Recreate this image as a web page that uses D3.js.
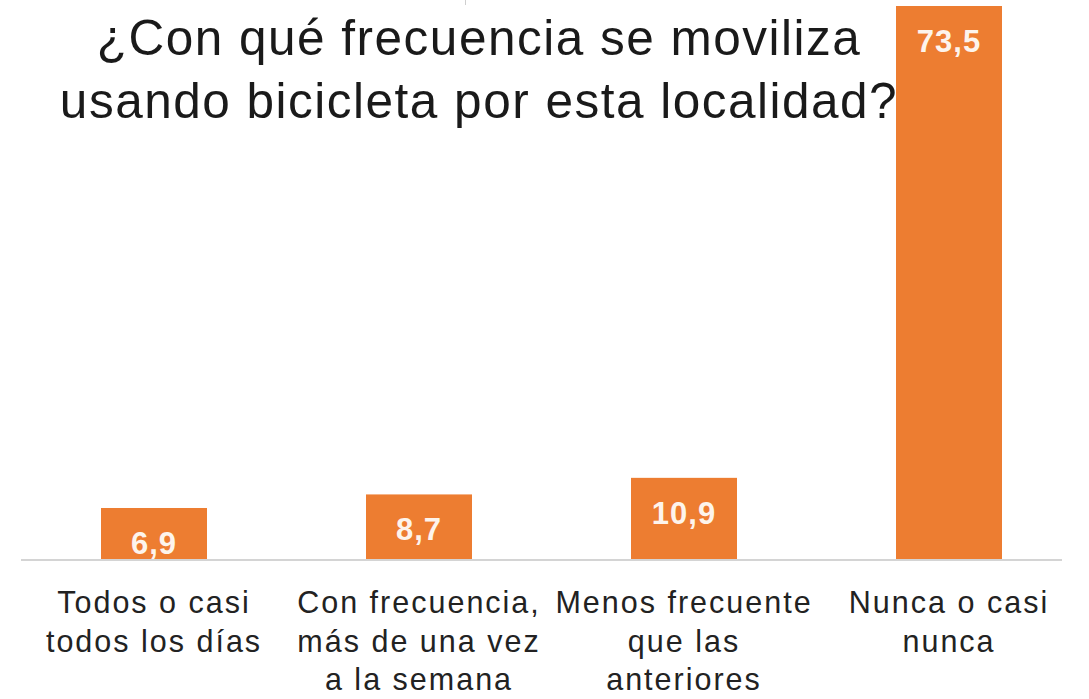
<!DOCTYPE html>
<html>
<head>
<meta charset="utf-8">
<script src="https://cdn.jsdelivr.net/npm/d3@7"></script>
<style>
  html, body { margin: 0; padding: 0; background: #ffffff; }
  svg { display: block; }
</style>
</head>
<body>
<svg id="chart" width="1089" height="699"></svg>
<script>
// Survey answers: how often people get around this locality by bicycle (%)
const categories = [
  ["Todos o casi", "todos los días"],
  ["Con frecuencia,", "más de una vez", "a la semana"],
  ["Menos frecuente", "que las", "anteriores"],
  ["Nunca o casi", "nunca"]
];
const values = [6.9, 8.7, 10.9, 73.5];
const valueLabels = ["6,9", "8,7", "10,9", "73,5"];
const titleLines = ["¿Con qué frecuencia se moviliza", "usando bicicleta por esta localidad?"];

const svg = d3.select("#chart");
const baseline = 560;

const x = d3.scaleBand()
  .domain(d3.range(categories.length))
  .range([21.5, 1081.5])
  .paddingInner(0.6)
  .paddingOuter(0.3);

const y = d3.scaleLinear()
  .domain([0, d3.max(values)])
  .range([baseline, 6]);

// faint mark at the top edge
svg.append("line")
  .attr("x1", 465.5).attr("x2", 465.5)
  .attr("y1", 0).attr("y2", 5)
  .attr("stroke", "#cfcfcf").attr("stroke-width", 1);

// bars
svg.append("g").selectAll("rect")
  .data(values)
  .join("rect")
  .attr("x", (d, i) => x(i))
  .attr("y", d => y(d))
  .attr("width", x.bandwidth())
  .attr("height", d => baseline - y(d))
  .attr("fill", "#ED7D31");

// category axis
const xAxis = d3.axisBottom(x).tickSize(0).tickFormat("");
const axisG = svg.append("g")
  .attr("transform", `translate(0,${baseline})`)
  .call(xAxis);
axisG.select(".domain")
  .attr("d", "M21,0H1062")
  .attr("stroke", "#d4d4d4")
  .attr("stroke-width", 2);

// category labels (multi-line)
axisG.selectAll(".tick").each(function(d) {
  const t = d3.select(this).append("text")
    .attr("text-anchor", "middle")
    .attr("fill", "#222222")
    .attr("font-family", "'Liberation Sans', Arial, sans-serif")
    .attr("font-size", 30.5)
    .attr("letter-spacing", 2);
  categories[d].forEach((line, k) => {
    t.append("tspan")
      .attr("x", 0)
      .attr("y", 53 + k * 38.5)
      .text(line);
  });
});

// value labels inside the bars
svg.append("g").selectAll("text")
  .data(values)
  .join("text")
  .attr("x", (d, i) => x(i) + x.bandwidth() / 2)
  .attr("y", d => y(d) + 46)
  .attr("text-anchor", "middle")
  .attr("fill", "#fdf4ec")
  .attr("font-family", "'Liberation Sans', Arial, sans-serif")
  .attr("font-weight", "bold")
  .attr("font-size", 31)
  .attr("letter-spacing", 1)
  .text((d, i) => valueLabels[i]);

// title
const title = svg.append("text")
  .attr("text-anchor", "middle")
  .attr("fill", "#1a1a1a")
  .attr("font-family", "'Liberation Sans', Arial, sans-serif")
  .attr("font-size", 49.5)
  .attr("letter-spacing", 1.5);
titleLines.forEach((line, k) => {
  title.append("tspan")
    .attr("x", 479)
    .attr("y", 55 + k * 63)
    .text(line);
});
</script>
</body>
</html>
